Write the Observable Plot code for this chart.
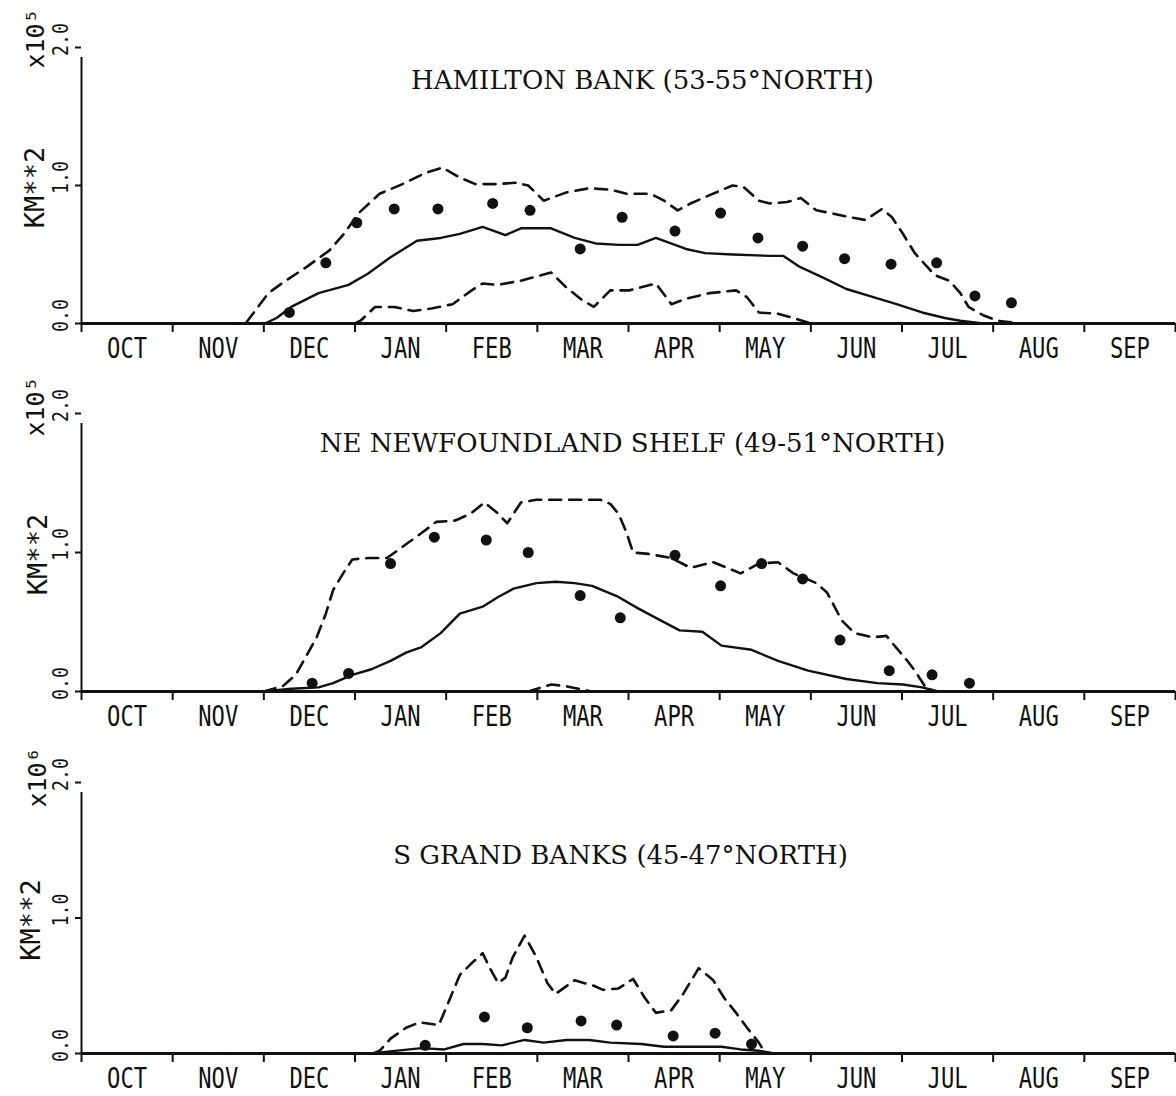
<!DOCTYPE html>
<html>
<head>
<meta charset="utf-8">
<script src="https://cdn.jsdelivr.net/npm/d3@7"></script>
<script src="https://cdn.jsdelivr.net/npm/@observablehq/plot@0.6"></script>
<style>
html, body { margin: 0; padding: 0; background: #fff; }
#chart { width: 1176px; }
#chart svg { display: block; }
</style>
</head>
<body>
<div id="chart"></div>
<script>
// Month labels (x runs in months from 1 October)
const months = ["OCT","NOV","DEC","JAN","FEB","MAR","APR","MAY","JUN","JUL","AUG","SEP"];
const monthEdges = d3.range(13);
const monthCenters = d3.range(12).map(i => i + 0.5);
const yTicks = [0, 1, 2];
const unitLabel = "KM**2";

// Hamilton Bank (53-55°N) — [month, value]
const hamiltonMax = [[1.6,0],[1.80,0],[2.05,0.22],[2.24,0.31],[2.47,0.41],[2.72,0.53],[2.88,0.65],[3.04,0.80],[3.27,0.94],[3.52,1.01],[3.77,1.09],[3.96,1.13],[4.14,1.06],[4.32,1.01],[4.56,1.01],[4.76,1.02],[4.90,1.00],[5.07,0.89],[5.32,0.95],[5.57,0.98],[5.80,0.97],[5.98,0.94],[6.24,0.94],[6.39,0.89],[6.54,0.82],[6.68,0.87],[6.89,0.93],[7.14,1.00],[7.26,0.99],[7.43,0.89],[7.55,0.87],[7.74,0.88],[7.89,0.91],[8.06,0.82],[8.22,0.80],[8.43,0.77],[8.60,0.75],[8.78,0.83],[8.89,0.77],[9.01,0.65],[9.14,0.51],[9.36,0.35],[9.52,0.31],[9.64,0.22],[9.73,0.12],[9.89,0.06],[10.05,0.02],[10.3,0]];
const hamiltonMean = [[2.01,0],[2.14,0.04],[2.30,0.12],[2.60,0.22],[2.93,0.28],[3.14,0.36],[3.39,0.48],[3.68,0.60],[3.94,0.62],[4.15,0.65],[4.40,0.70],[4.65,0.64],[4.82,0.69],[5.15,0.69],[5.41,0.62],[5.64,0.58],[5.90,0.57],[6.10,0.57],[6.30,0.62],[6.63,0.54],[6.84,0.51],[7.14,0.50],[7.55,0.49],[7.70,0.49],[7.88,0.41],[8.14,0.33],[8.39,0.25],[8.64,0.20],[8.94,0.14],[9.22,0.08],[9.47,0.04],[9.64,0.02],[9.89,0]];
const hamiltonMin = [[3.0,0],[3.06,0.02],[3.22,0.12],[3.43,0.12],[3.64,0.09],[3.85,0.11],[4.07,0.14],[4.28,0.24],[4.40,0.29],[4.56,0.28],[4.82,0.31],[5.15,0.37],[5.32,0.26],[5.49,0.17],[5.62,0.12],[5.80,0.24],[6.01,0.24],[6.30,0.29],[6.47,0.14],[6.63,0.18],[6.89,0.22],[7.18,0.24],[7.30,0.19],[7.43,0.08],[7.64,0.07],[7.81,0.04],[8.0,0]];
const hamiltonDots = [[2.28,0.08],[2.68,0.44],[3.02,0.73],[3.43,0.83],[3.91,0.83],[4.51,0.87],[4.92,0.82],[5.47,0.54],[5.93,0.77],[6.51,0.67],[7.01,0.80],[7.42,0.62],[7.91,0.56],[8.37,0.47],[8.88,0.43],[9.38,0.44],[9.80,0.20],[10.20,0.15]];

// NE Newfoundland Shelf (49-51°N)
const newfMax = [[2.0,0],[2.21,0.04],[2.35,0.12],[2.47,0.26],[2.58,0.39],[2.68,0.56],[2.76,0.73],[2.87,0.85],[2.97,0.95],[3.14,0.96],[3.35,0.96],[3.52,1.04],[3.73,1.14],[3.89,1.22],[4.10,1.23],[4.27,1.28],[4.42,1.36],[4.57,1.28],[4.67,1.21],[4.82,1.36],[4.99,1.38],[5.69,1.38],[5.80,1.35],[5.89,1.28],[5.98,1.14],[6.05,1.00],[6.22,0.99],[6.47,0.96],[6.68,0.89],[6.93,0.93],[7.23,0.85],[7.43,0.92],[7.64,0.93],[7.81,0.85],[8.06,0.78],[8.18,0.71],[8.34,0.51],[8.48,0.42],[8.68,0.39],[8.83,0.40],[8.93,0.32],[9.06,0.22],[9.14,0.15],[9.25,0.04],[9.35,0]];
const newfMean = [[2.0,0],[2.30,0.02],[2.60,0.03],[2.76,0.06],[2.97,0.12],[3.18,0.16],[3.39,0.22],[3.56,0.28],[3.73,0.32],[3.94,0.42],[4.15,0.56],[4.40,0.61],[4.57,0.68],[4.74,0.74],[4.99,0.78],[5.20,0.79],[5.41,0.78],[5.60,0.76],[5.89,0.68],[6.10,0.60],[6.30,0.53],[6.56,0.44],[6.81,0.43],[7.02,0.33],[7.35,0.30],[7.64,0.22],[7.97,0.15],[8.39,0.09],[8.73,0.06],[9.01,0.05],[9.22,0.03],[9.40,0]];
const newfMin = [[4.9,0],[5.05,0.03],[5.15,0.05],[5.30,0.04],[5.45,0.02],[5.6,0]];
const newfDots = [[2.53,0.06],[2.93,0.13],[3.39,0.92],[3.87,1.11],[4.44,1.09],[4.90,1.00],[5.47,0.69],[5.91,0.53],[6.51,0.98],[7.01,0.76],[7.46,0.92],[7.91,0.81],[8.32,0.37],[8.86,0.15],[9.33,0.12],[9.74,0.06]];

// S Grand Banks (45-47°N)
const grandMax = [[3.20,0],[3.27,0.02],[3.39,0.11],[3.56,0.19],[3.71,0.23],[3.92,0.21],[4.02,0.37],[4.15,0.58],[4.27,0.66],[4.40,0.74],[4.48,0.63],[4.57,0.52],[4.65,0.56],[4.73,0.71],[4.86,0.87],[4.99,0.71],[5.11,0.52],[5.20,0.44],[5.41,0.54],[5.62,0.50],[5.72,0.47],[5.89,0.48],[6.05,0.55],[6.18,0.41],[6.30,0.30],[6.47,0.32],[6.60,0.44],[6.77,0.63],[6.93,0.54],[7.05,0.41],[7.18,0.30],[7.30,0.19],[7.43,0.08],[7.50,0]];
const grandMean = [[3.2,0],[3.31,0.01],[3.73,0.04],[3.98,0.03],[4.19,0.07],[4.40,0.07],[4.61,0.06],[4.86,0.10],[5.07,0.08],[5.32,0.10],[5.57,0.10],[5.80,0.08],[6.14,0.07],[6.39,0.05],[6.72,0.05],[7.02,0.05],[7.23,0.03],[7.43,0.02],[7.6,0]];
const grandMin = [];
const grandDots = [[3.77,0.06],[4.42,0.27],[4.89,0.19],[5.48,0.24],[5.87,0.21],[6.49,0.13],[6.95,0.15],[7.35,0.07]];

const panels = [
  {title: "HAMILTON BANK (53-55°NORTH)", exp: "x10⁵", max: hamiltonMax, min: hamiltonMin, mean: hamiltonMean, dots: hamiltonDots,
   height: 366, mt: 47, mb: 43, tdx: 14, tdy: 33, tlen: 450, kdx: -46, edx: -46, edy: -9},
  {title: "NE NEWFOUNDLAND SHELF (49-51°NORTH)", exp: "x10⁵", max: newfMax, min: newfMin, mean: newfMean, dots: newfDots,
   height: 366, mt: 47, mb: 41, tdx: 4, tdy: 30, tlen: 591, kdx: -43, edx: -46, edy: -7},
  {title: "S GRAND BANKS (45-47°NORTH)", exp: "x10⁶", max: grandMax, min: grandMin, mean: grandMean, dots: grandDots,
   height: 364, mt: 50, mb: 43, tdx: -8, tdy: 73, tlen: 452, kdx: -50, edx: -44, edy: -5}
];

const INK = "#111";
const mono = "'DejaVu Sans Mono', monospace";
const px = d => d[0], py = d => d[1];

function drawPanel(p) {
  const svg = Plot.plot({
    width: 1176,
    height: p.height,
    marginLeft: 81, marginRight: 1, marginTop: p.mt, marginBottom: p.mb,
    x: {domain: [0, 12], label: null},
    y: {domain: [0, 2], label: null},
    style: {background: "#fff", color: INK, fontFamily: mono, overflow: "visible"},
    marks: [
      Plot.ruleY([0], {stroke: INK, strokeWidth: 3}),
      Plot.ruleX([0], {y1: 0, y2: 2, stroke: INK, strokeWidth: 2, insetBottom: -10}),
      Plot.axisY(yTicks, {tickSize: 6, fill: null, strokeWidth: 2}),
      Plot.axisY(yTicks, {tickSize: 0, tickPadding: 14, tickRotate: -90, dy: -8,
        tickFormat: d3.format(".1f"), fontSize: 21, fill: INK}),
      Plot.axisX(monthEdges, {tickSize: 9, fill: null, strokeWidth: 2}),
      Plot.axisX(monthCenters, {tickSize: 0, tickPadding: 15, fontSize: 28, fill: INK,
        tickFormat: d => months[Math.floor(d)]}),
      Plot.line(p.max, {x: px, y: py, stroke: INK, strokeWidth: 2.6, strokeDasharray: "12,8"}),
      Plot.line(p.min, {x: px, y: py, stroke: INK, strokeWidth: 2.6, strokeDasharray: "12,8"}),
      Plot.line(p.mean, {x: px, y: py, stroke: INK, strokeWidth: 2.4}),
      Plot.dot(p.dots, {x: px, y: py, r: 5.5, fill: INK, stroke: null}),
      Plot.text([p.title], {text: d => d, frameAnchor: "top", dx: p.tdx, dy: p.tdy, lineAnchor: "middle",
        fontSize: 26, fontFamily: "'DejaVu Serif', 'Liberation Serif', serif", fill: INK,
        ariaLabel: "panel title"}),
      Plot.text([unitLabel], {text: d => d, frameAnchor: "left", rotate: -90, dx: p.kdx, dy: 2,
        textAnchor: "middle", lineAnchor: "middle", fontSize: 27, fill: INK}),
      Plot.text([p.exp], {text: d => d, frameAnchor: "top-left", rotate: -90, dx: p.edx, dy: p.edy,
        textAnchor: "middle", lineAnchor: "middle", fontSize: 25, fill: INK})
    ]
  });
  svg.querySelectorAll('[aria-label="x-axis tick label"] text').forEach(t => {
    t.setAttribute("textLength", 40);
    t.setAttribute("lengthAdjust", "spacingAndGlyphs");
  });
  svg.querySelectorAll('[aria-label="y-axis tick label"] text').forEach(t => {
    t.setAttribute("textLength", 33);
    t.setAttribute("lengthAdjust", "spacingAndGlyphs");
  });
  svg.querySelectorAll('[aria-label="panel title"] text').forEach(t => {
    t.setAttribute("textLength", p.tlen);
    t.setAttribute("lengthAdjust", "spacingAndGlyphs");
  });
  return svg;
}

const chart = document.getElementById("chart");
panels.forEach(p => chart.appendChild(drawPanel(p)));
</script>
</body>
</html>
